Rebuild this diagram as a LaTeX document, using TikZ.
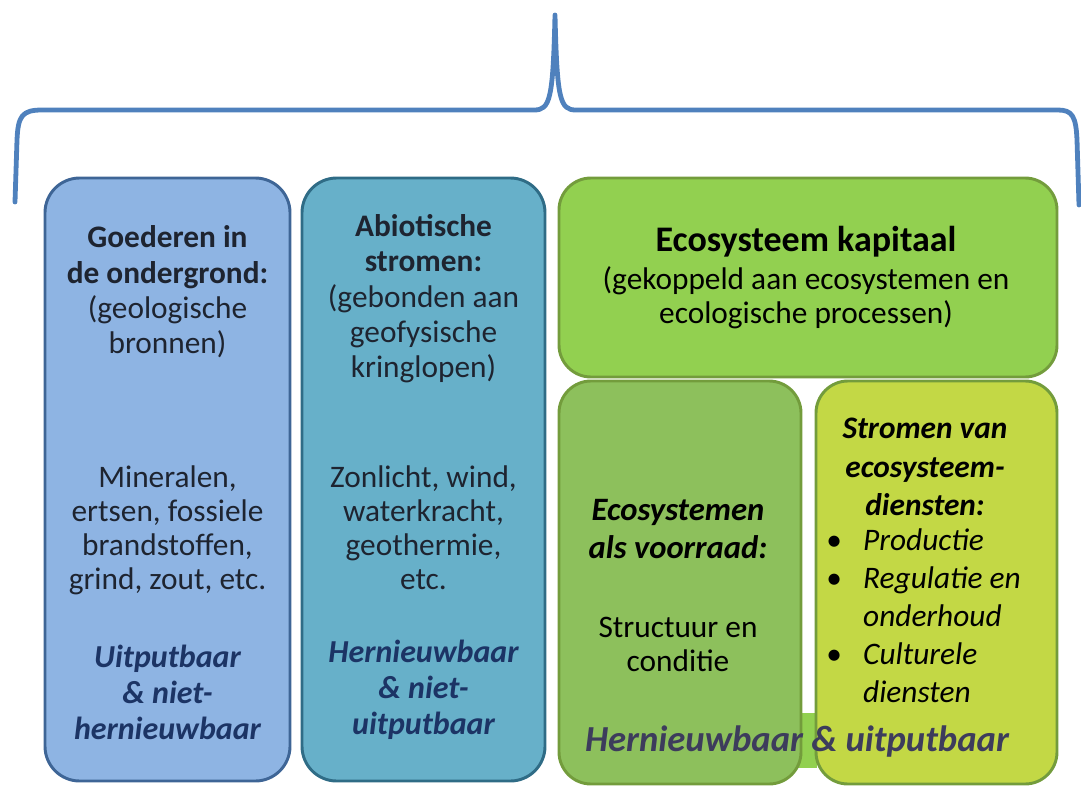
\documentclass[tikz,border=0pt]{standalone}
\usepackage{fontspec}
\setmainfont{Carlito}
\usepackage{tikz}
\usetikzlibrary{positioning,calc}

\definecolor{bracecol}{HTML}{4F81BD}
\definecolor{geofill}{HTML}{8EB4E3}
\definecolor{geoline}{HTML}{3E6596}
\definecolor{abiofill}{HTML}{67B0C9}
\definecolor{abioline}{HTML}{2F6C86}
\definecolor{ecofill}{HTML}{92D050}
\definecolor{ecoline}{HTML}{739C3C}
\definecolor{stockfill}{HTML}{8DC05C}
\definecolor{flowfill}{HTML}{C3D845}
\definecolor{navytext}{HTML}{1C3465}
\definecolor{slatetext}{HTML}{3D3C5C}
\definecolor{bodytext}{HTML}{1E2430}

\begin{document}
\begin{tikzpicture}[x=0.75pt,y=-0.75pt,
  brace/.style={draw=bracecol,line width=3.6pt,line cap=round,line join=round},
  geobox/.style={fill=geofill,draw=geoline,line width=2.2pt,rounded corners=26pt},
  abiobox/.style={fill=abiofill,draw=abioline,line width=2.2pt,rounded corners=26pt},
  ecobox/.style={draw=ecoline,line width=2.2pt,rounded corners=24pt},
  txt/.style={align=center,inner sep=0pt,text=bodytext,font=\fontsize{23.5}{25.5}\selectfont},
  headtxt/.style={txt,font=\fontsize{23.5}{26.5}\selectfont},
  hint/.style={txt,text=navytext,font=\fontsize{24}{27}\selectfont\bfseries\itshape},
  flowtxt/.style={txt,text=black,font=\fontsize{23.5}{28.5}\selectfont}]
 \useasboundingbox (0,0) rectangle (1081,785);
%brace
 \draw[brace] (15,202) -- (17,140) .. controls (18,116) and (22,110) .. (42,110)
   -- (534,110) .. controls (550,110) and (553,100) .. (555,15)
   .. controls (557,100) and (560,110) .. (576,110) -- (1058,110)
   .. controls (1072,110) and (1076,116) .. (1077,140) -- (1079,205);
%geologische bronnen
 \draw[geobox] (45,178) rectangle (290,781);
 \node[headtxt] (geohead) at (167.5,292) {\textbf{Goederen in}\\\textbf{de ondergrond:}\\(geologische\\bronnen)};
 \node[txt] (geoex) at (167.5,530) {Mineralen,\\ertsen, fossiele\\brandstoffen,\\grind, zout, etc.};
 \node[hint] (geohint) at (167.5,692) {Uitputbaar\\\& niet-\\hernieuwbaar};
%abiotische stromen
 \draw[abiobox] (302,178) rectangle (545,781);
 \node[headtxt] (abiohead) at (423.5,299) {\textbf{Abiotische}\\\textbf{stromen:}\\(gebonden aan\\geofysische\\kringlopen)};
 \node[txt] (abioex) at (423.5,528) {Zonlicht, wind,\\waterkracht,\\geothermie,\\etc.};
 \node[hint] (abiohint) at (423.5,690) {Hernieuwbaar\\\& niet-\\uitputbaar};
%ecosysteem kapitaal
 \fill[ecofill] (793,713) rectangle (817,768);
 \draw[ecobox,fill=ecofill] (559,178) rectangle (1057,377);
 \draw[ecobox,fill=stockfill] (559,381) rectangle (801,784);
 \draw[ecobox,fill=flowfill] (816,381) rectangle (1057,784);
 \node[txt,text=black,font=\fontsize{27}{32}\selectfont\bfseries] (ecohead) at (806,242) {Ecosysteem kapitaal};
 \node[txt,text=black] (ecosub) at (806,298) {(gekoppeld aan ecosystemen en\\ecologische processen)};
 \node[txt,text=black,font=\fontsize{24.5}{28.5}\selectfont\bfseries\itshape] (stockhead) at (678,529) {Ecosystemen\\als voorraad:};
 \node[txt,text=black] (stockex) at (678,644) {Structuur en\\conditie};
 \node[flowtxt,font=\fontsize{23.5}{29}\selectfont\bfseries\itshape] (flowhead) at (925,467) {Stromen van\\ecosysteem-\\diensten:};
 \node[flowtxt,anchor=north west] (flowlist) at (826,524) {\begin{tabular}{@{}l@{\hspace{16pt}}l@{}}
   \textbullet & \textit{Productie}\\
   \textbullet & \textit{Regulatie en}\\
               & \textit{onderhoud}\\
   \textbullet & \textit{Culturele}\\
               & \textit{diensten}
  \end{tabular}};
 \node[txt,text=slatetext,font=\fontsize{27.5}{30}\selectfont\bfseries\itshape] (ecohint) at (797,742) {Hernieuwbaar \& uitputbaar};
\end{tikzpicture}
\end{document}
